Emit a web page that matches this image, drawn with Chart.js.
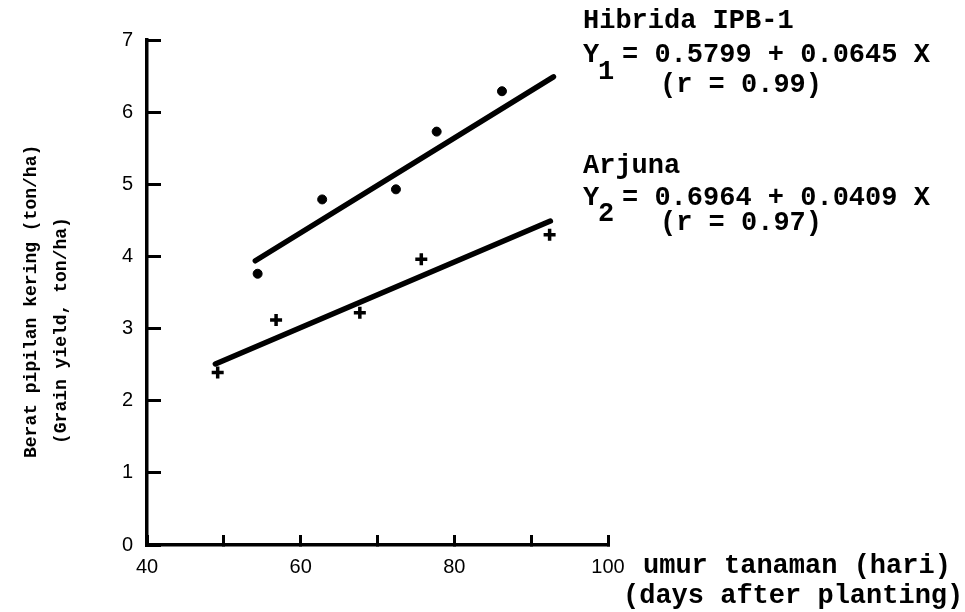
<!DOCTYPE html>
<html>
<head>
<meta charset="utf-8">
<script src="https://cdn.jsdelivr.net/npm/chart.js@4"></script>
<style>
    html, body { margin: 0; padding: 0; background: #fff; }
    #wrap { width: 965px; height: 612px; }
</style>
</head>
<body>
<div id="wrap"><canvas id="yieldChart" width="965" height="612"></canvas></div>
<script>
// Hibrida IPB-1 (dots)
const hibridaDays = [54.4, 62.8, 72.4, 77.7, 86.2];
const hibridaYield = [3.76, 4.79, 4.93, 5.73, 6.29];
// Arjuna (crosses)
const arjunaDays = [49.2, 56.8, 67.7, 75.7, 92.4];
const arjunaYield = [2.39, 3.12, 3.22, 3.96, 4.30];
// fitted lines, end points
const hibridaFitDays = [54.1, 92.9];
const hibridaFitYield = [3.94, 6.49];
const arjunaFitDays = [48.9, 92.5];
const arjunaFitYield = [2.51, 4.49];
// axes
const xLabelled = [40, 60, 80, 100];
const yTickValues = [0, 1, 2, 3, 4, 5, 6, 7];
const yTitle = ['Berat pipilan kering (ton/ha)', '(Grain yield, ton/ha)'];
const xTitle = ['umur tanaman (hari)', '(days after planting)'];

(function () {
    const ctx = document.getElementById('yieldChart').getContext('2d');
    const mono = '"Liberation Mono", "Courier New", monospace';
    const sans = '"Liberation Sans", Arial, sans-serif';
    const toPoints = (xs, ys) => xs.map((x, i) => ({ x, y: ys[i] }));

    const textPlugin = {
        id: 'figureText',
        afterDraw(chart) {
            const c = chart.ctx;
            c.save();
            c.fillStyle = '#000';
            c.textBaseline = 'alphabetic';
            c.textAlign = 'left';

            c.font = `bold 27px ${mono}`;
            c.fillText('Hibrida IPB-1', 583, 28);
            c.fillText('Y', 583, 62);
            c.fillText('1', 598, 79);
            c.fillText('= 0.5799 + 0.0645 X', 622, 62);
            c.fillText('(r = 0.99)', 660, 92);

            c.fillText('Arjuna', 583, 173);
            c.fillText('Y', 583, 205);
            c.fillText('2', 598, 221);
            c.fillText('= 0.6964 + 0.0409 X', 622, 205);
            c.fillText('(r = 0.97)', 660, 230);

            c.fillText(xTitle[0], 643, 573);
            c.fillText(xTitle[1], 623, 603);

            c.font = `bold 18px ${mono}`;
            c.save();
            c.translate(36, 458);
            c.rotate(-Math.PI / 2);
            c.fillText(yTitle[0], 0, 0);
            c.restore();
            c.save();
            c.translate(66, 444);
            c.rotate(-Math.PI / 2);
            c.fillText(yTitle[1], 0, 0);
            c.restore();

            c.restore();
        }
    };

    new Chart(ctx, {
        type: 'scatter',
        data: {
            datasets: [
                {
                    label: 'Hibrida IPB-1',
                    data: toPoints(hibridaDays, hibridaYield),
                    pointStyle: 'circle',
                    pointRadius: 4.5,
                    backgroundColor: '#000',
                    borderColor: '#000'
                },
                {
                    label: 'Arjuna',
                    data: toPoints(arjunaDays, arjunaYield),
                    pointStyle: 'cross',
                    pointRadius: 6,
                    borderWidth: 3.5,
                    borderColor: '#000'
                },
                {
                    type: 'line',
                    label: 'Y1',
                    data: toPoints(hibridaFitDays, hibridaFitYield),
                    borderColor: '#000',
                    borderWidth: 5.5,
                    borderCapStyle: 'round',
                    pointRadius: 0
                },
                {
                    type: 'line',
                    label: 'Y2',
                    data: toPoints(arjunaFitDays, arjunaFitYield),
                    borderColor: '#000',
                    borderWidth: 5.5,
                    borderCapStyle: 'round',
                    pointRadius: 0
                }
            ]
        },
        options: {
            responsive: false,
            animation: false,
            devicePixelRatio: 1,
            layout: { padding: { top: 21, right: 357, left: 0, bottom: 0 } },
            plugins: { legend: { display: false }, tooltip: { enabled: false } },
            scales: {
                x: {
                    type: 'linear',
                    min: 40,
                    max: 100,
                    afterFit: s => { s.height = 67; },
                    ticks: {
                        stepSize: 10,
                        color: '#000',
                        padding: 20,
                        maxRotation: 0,
                        font: { family: sans, size: 20 },
                        callback: v => xLabelled.includes(v) ? String(v) : ''
                    },
                    grid: { drawOnChartArea: false, drawTicks: true, tickLength: -10, color: '#000', lineWidth: 3 },
                    border: { display: true, color: '#000', width: 3.5 }
                },
                y: {
                    type: 'linear',
                    min: 0,
                    max: 7,
                    afterFit: s => { s.width = 147; },
                    afterBuildTicks: s => { s.ticks = yTickValues.map(v => ({ value: v })); },
                    ticks: {
                        color: '#000',
                        padding: 28,
                        font: { family: sans, size: 20 }
                    },
                    grid: { drawOnChartArea: false, drawTicks: true, tickLength: -14, color: '#000', lineWidth: 3 },
                    border: { display: true, color: '#000', width: 3.5 }
                }
            }
        },
        plugins: [textPlugin]
    });
})();
</script>
</body>
</html>
